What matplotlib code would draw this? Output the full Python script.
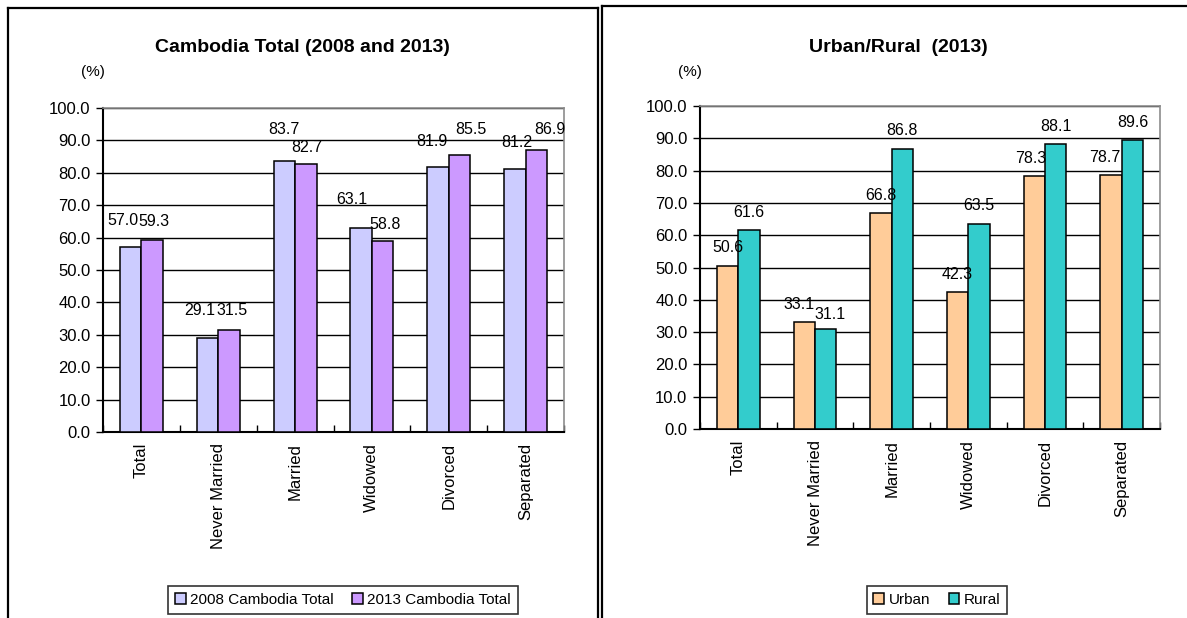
import numpy as np
import matplotlib.pyplot as plt
from matplotlib.lines import Line2D

plt.rcParams['font.family'] = ['Liberation Sans', 'DejaVu Sans']

categories = ['Total', 'Never Married', 'Married', 'Widowed', 'Divorced', 'Separated']

total_2008 = [57.0, 29.1, 83.7, 63.1, 81.9, 81.2]
total_2013 = [59.3, 31.5, 82.7, 58.8, 85.5, 86.9]

urban_2013 = [50.6, 33.1, 66.8, 42.3, 78.3, 78.7]
rural_2013 = [61.6, 31.1, 86.8, 63.5, 88.1, 89.6]

# label nudges in pixels (dx, dy above bar top)
nudge_2008 = [(-8, 27), (-8, 27), (0, 31), (-9, 28), (-6, 25), (2, 26)]
nudge_2013 = [(2, 18), (3, 19), (1, 17), (2, 17), (11, 25), (14, 21)]
nudge_urban = [(0, 18), (-5, 18), (0, 18), (0, 18), (-4, 18), (-6, 17)]
nudge_rural = [(0, 18), (4, 14), (0, 18), (0, 18), (0, 18), (0, 17)]

W, H = 1187, 618
fig = plt.figure(figsize=(W / 100, H / 100), dpi=100)
fig.patch.set_facecolor('white')

# panel frames
fig.add_artist(Line2D([8 / W, 8 / W], [0, 1 - 8 / H], color='black', lw=1.6))
fig.add_artist(Line2D([8 / W, 598 / W], [1 - 8 / H, 1 - 8 / H], color='black', lw=1.6))
fig.add_artist(Line2D([598 / W, 598 / W], [0, 1 - 8 / H], color='black', lw=1.6))
fig.add_artist(Line2D([602 / W, 602 / W], [0, 1 - 6 / H], color='black', lw=1.6))
fig.add_artist(Line2D([602 / W, 1], [1 - 6 / H, 1 - 6 / H], color='black', lw=1.6))

bw = 0.28
x = np.arange(len(categories))


def panel(rect, s1, s2, names, colors, nudges1, nudges2, title, title_x, pct_x, leg_x):
    ax = fig.add_axes(rect)
    b1 = ax.bar(x - bw / 2, s1, bw, color=colors[0], edgecolor='black', lw=1.1, zorder=3, label=names[0])
    b2 = ax.bar(x + bw / 2, s2, bw, color=colors[1], edgecolor='black', lw=1.1, zorder=3, label=names[1])
    for bars, vals, nud in ((b1, s1, nudges1), (b2, s2, nudges2)):
        for b, v, (dx, dy) in zip(bars, vals, nud):
            ax.annotate(f'{v:.1f}', (b.get_x() + b.get_width() / 2, v),
                        xytext=(dx, dy), textcoords='offset pixels',
                        ha='center', va='center', fontsize=11.5, zorder=4)
    ax.set_xlim(-0.5, len(categories) - 0.5)
    ax.set_ylim(0, 100)
    ax.set_yticks(np.arange(0, 101, 10))
    ax.set_yticklabels([f'{v:.1f}' for v in range(0, 101, 10)], fontsize=12)
    ax.yaxis.grid(True, color='black', lw=1, zorder=0)
    ax.set_axisbelow(True)
    ax.set_xticks(x)
    ax.set_xticklabels(categories, rotation=90, fontsize=12)
    ax.set_xticks(np.arange(-0.5, len(categories)), minor=True)
    ax.tick_params(axis='x', which='major', length=0, pad=8)
    ax.tick_params(axis='x', which='minor', direction='in', length=5, width=1)
    ax.tick_params(axis='y', direction='out', length=5, width=1, pad=4)
    for s in ('top', 'right'):
        ax.spines[s].set_color('#8c8c8c')
        ax.spines[s].set_linewidth(1.2)
    for s in ('left', 'bottom'):
        ax.spines[s].set_color('black')
        ax.spines[s].set_linewidth(1.5)
    fig.text(title_x / W, 1 - 47 / H, title, ha='center', va='center',
             fontsize=14, fontweight='bold')
    fig.text(pct_x / W, 1 - 72 / H, '(%)', ha='center', va='center', fontsize=11)
    leg = fig.legend(handles=[b1, b2], loc='center', bbox_to_anchor=(leg_x / W, 1 - 600 / H),
                     ncol=2, fontsize=11, frameon=True, fancybox=False,
                     edgecolor='black', handlelength=0.7, handleheight=0.7,
                     handletextpad=0.3, columnspacing=1.2, borderpad=0.45)
    leg.get_frame().set_linewidth(1.2)
    return ax


panel([103 / W, (H - 432) / H, 461 / W, 324 / H], total_2008, total_2013,
      ['2008 Cambodia Total', '2013 Cambodia Total'], ['#CCCCFF', '#CC99FF'],
      nudge_2008, nudge_2013, 'Cambodia Total (2008 and 2013)', 302, 93, 343)

panel([700 / W, (H - 429) / H, 460 / W, 323 / H], urban_2013, rural_2013,
      ['Urban', 'Rural'], ['#FFCC99', '#33CCCC'],
      nudge_urban, nudge_rural, 'Urban/Rural  (2013)', 898, 690, 937)

fig.savefig('out.png', dpi=100, facecolor='white')
